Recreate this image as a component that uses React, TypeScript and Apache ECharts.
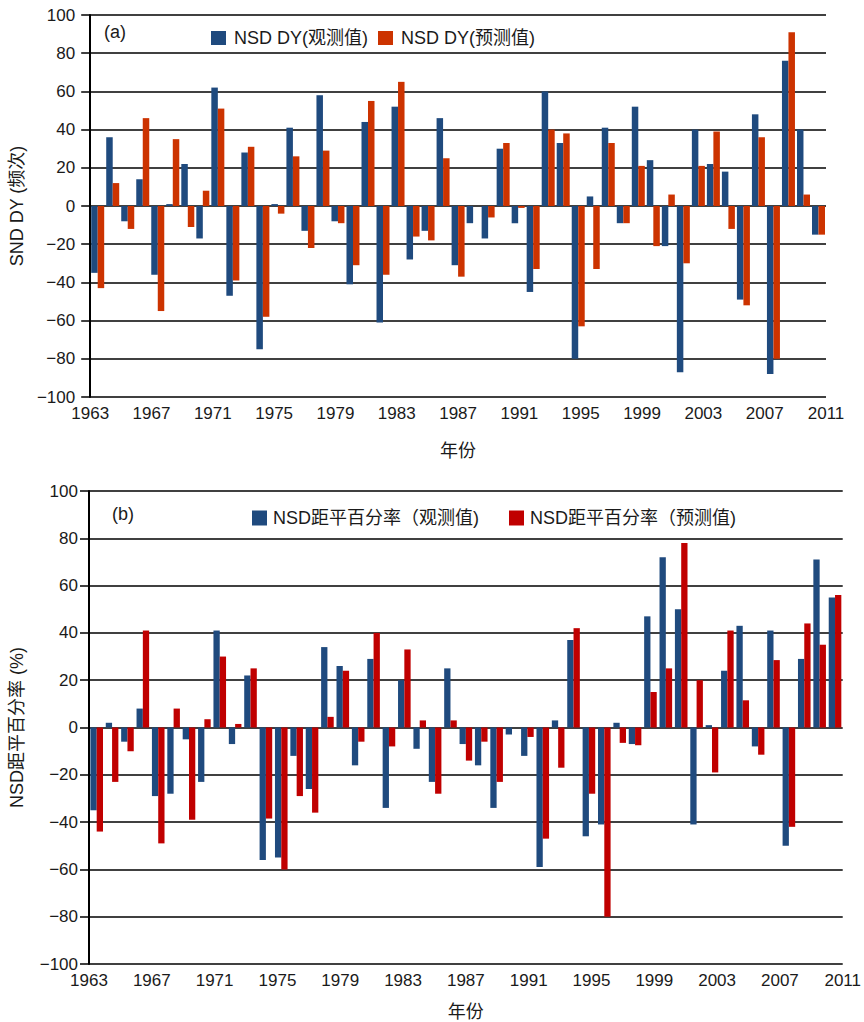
import React, { useEffect, useRef } from "react";
import * as echarts from "echarts";

const years = [
  "1963", "1964", "1965", "1966", "1967", "1968", "1969", "1970", "1971", "1972",
  "1973", "1974", "1975", "1976", "1977", "1978", "1979", "1980", "1981", "1982",
  "1983", "1984", "1985", "1986", "1987", "1988", "1989", "1990", "1991", "1992",
  "1993", "1994", "1995", "1996", "1997", "1998", "1999", "2000", "2001", "2002",
  "2003", "2004", "2005", "2006", "2007", "2008", "2009", "2010", "2011",
];

// Panel (a): NSD DY
const dyObserved = [
  -35, 36, -8, 14, -36, 1, 22, -17, 62, -47,
  28, -75, 1, 41, -13, 58, -8, -41, 44, -61,
  52, -28, -13, 46, -31, -9, -17, 30, -9, -45,
  60, 33, -80, 5, 41, -9, 52, 24, -21, -87,
  40, 22, 18, -49, 48, -88, 76, 40, -15,
];
const dyPredicted = [
  -43, 12, -12, 46, -55, 35, -11, 8, 51, -39,
  31, -58, -4, 26, -22, 29, -9, -31, 55, -36,
  65, -16, -18, 25, -37, 0, -6, 33, -1, -33,
  40, 38, -63, -33, 33, -9, 21, -21, 6, -30,
  21, 39, -12, -52, 36, -80, 91, 6, -15,
];

// Panel (b): NSD anomaly percentage
const pctObserved = [
  -35, 2, -6, 8, -29, -28, -5, -23, 41, -7,
  22, -56, -55, -12, -26, 34, 26, -16, 29, -34,
  20, -9, -23, 25, -7, -16, -34, -3, -12, -59,
  3, 37, -46, -41, 2, -7, 47, 72, 50, -41,
  1, 24, 43, -8, 41, -50, 29, 71, 55,
];
const pctPredicted = [
  -44, -23, -10, 41, -49, 8, -39, 3.5, 30, 1.5,
  25, -38.5, -60, -29, -36, 4.5, 24, -6, 40, -8,
  33, 3, -28, 3, -14, -6, -23, 0, -4, -47,
  -17, 42, -28, -80, -6.5, -7.5, 15, 25, 78, 20,
  -19, 41, 11.5, -11.5, 28.5, -42, 44, 35, 56,
];

const seriesNames = {
  dyObs: "NSD DY(观测值)",
  dyPre: "NSD DY(预测值)",
  pctObs: "NSD距平百分率（观测值)",
  pctPre: "NSD距平百分率（预测值)",
};

const BLUE = "#1F4A7E";
const RED_A = "#CC3300";
const RED_B = "#C00000";
const TEXT = "#1a1a1a";
const FONT = '"Liberation Sans", Arial, "Noto Sans CJK SC", sans-serif';

function fmtY(v: number) {
  return v < 0 ? "\u2212" + Math.abs(v) : String(v);
}

function yAxis(gridIndex: number, name: string, margin: number, nameGap: number) {
  return {
    type: "value",
    gridIndex,
    min: -100,
    max: 100,
    interval: 20,
    name,
    nameLocation: "middle",
    nameGap,
    nameRotate: 90,
    nameTextStyle: { fontSize: 18, color: TEXT, fontFamily: FONT },
    axisLine: { show: true, onZero: false, lineStyle: { color: "#000", width: 2 } },
    axisTick: { show: true, length: 9, lineStyle: { color: "#000", width: 1.5 } },
    axisLabel: { fontSize: 17, margin, color: TEXT, fontFamily: FONT, formatter: fmtY },
    splitLine: { show: true, lineStyle: { color: "#000", width: 1.5 } },
  };
}

function barAxis(gridIndex: number) {
  return {
    type: "category",
    gridIndex,
    data: years,
    boundaryGap: true,
    axisLine: { show: false, onZero: false },
    axisTick: { show: false },
    axisLabel: { show: false },
    splitLine: { show: false },
  };
}

function labelAxis(gridIndex: number, nameGap: number) {
  return {
    type: "category",
    gridIndex,
    data: years,
    boundaryGap: false,
    position: "bottom",
    name: "年份",
    nameLocation: "middle",
    nameGap,
    nameTextStyle: { fontSize: 18, color: TEXT, fontFamily: FONT },
    axisLine: { show: false, onZero: false },
    axisTick: { show: false },
    axisLabel: { interval: 3, fontSize: 17, margin: 8, color: TEXT, fontFamily: FONT },
    splitLine: { show: false },
  };
}

export default function App() {
  const ref = useRef<HTMLDivElement>(null);

  useEffect(() => {
    if (!ref.current) return;
    const chart = echarts.init(ref.current, undefined, { renderer: "svg" });
    const option = {
      animation: false,
      backgroundColor: "#ffffff",
      grid: [
        { left: 87, top: 15, right: 38, bottom: 625, containLabel: false },
        { left: 88, top: 491, right: 17, bottom: 57, containLabel: false },
      ],
      xAxis: [barAxis(0), labelAxis(0, 45), barAxis(1), labelAxis(1, 39)],
      yAxis: [
        yAxis(0, "SND DY (频次)", 15, 62),
        yAxis(1, "NSD距平百分率 (%)", 11, 63),
      ],
      legend: [
        {
          data: [seriesNames.dyObs, seriesNames.dyPre],
          left: 206,
          top: 24,
          itemWidth: 15,
          itemHeight: 14,
          itemGap: 10,
          icon: "rect",
          selectedMode: false,
          textStyle: { fontSize: 18, color: TEXT, fontFamily: FONT, padding: [0, 0, 0, 3] },
        },
        {
          data: [seriesNames.pctObs, seriesNames.pctPre],
          left: 247,
          top: 504,
          itemWidth: 15,
          itemHeight: 15,
          itemGap: 30,
          icon: "rect",
          selectedMode: false,
          textStyle: { fontSize: 18, color: TEXT, fontFamily: FONT, padding: [0, 0, 0, 1] },
        },
      ],
      graphic: [
        { type: "text", left: 104, top: 23, style: { text: "(a)", fontSize: 18, fill: TEXT, fontFamily: FONT } },
        { type: "text", left: 112, top: 505, style: { text: "(b)", fontSize: 18, fill: TEXT, fontFamily: FONT } },
      ],
      series: [
        {
          type: "bar", name: seriesNames.dyObs, xAxisIndex: 0, yAxisIndex: 0,
          data: dyObserved, barWidth: 6.5, barGap: "0%", itemStyle: { color: BLUE },
        },
        {
          type: "bar", name: seriesNames.dyPre, xAxisIndex: 0, yAxisIndex: 0,
          data: dyPredicted, barWidth: 6.5, barGap: "0%", itemStyle: { color: RED_A },
        },
        {
          type: "bar", name: seriesNames.pctObs, xAxisIndex: 2, yAxisIndex: 1,
          data: pctObserved, barWidth: 6.3, barGap: "0%", itemStyle: { color: BLUE },
        },
        {
          type: "bar", name: seriesNames.pctPre, xAxisIndex: 2, yAxisIndex: 1,
          data: pctPredicted, barWidth: 6.3, barGap: "0%", itemStyle: { color: RED_B },
        },
      ],
    };
    chart.setOption(option as any);
    return () => chart.dispose();
  }, []);

  return (
    <div
      ref={ref}
      style={{ position: "absolute", left: 0, top: 0, width: 864, height: 1022, background: "#fff" }}
    />
  );
}
